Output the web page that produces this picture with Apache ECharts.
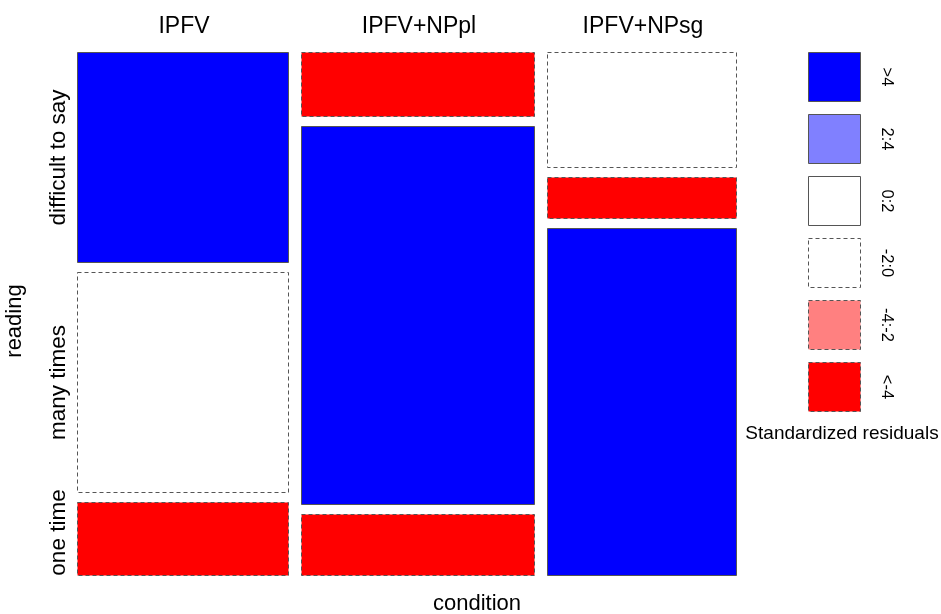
<!DOCTYPE html>
<html>
<head>
<meta charset="utf-8">
<script src="https://cdn.jsdelivr.net/npm/echarts@6/dist/echarts.min.js"></script>
<style>html,body{margin:0;padding:0;background:#fff}#chart{width:941px;height:614px}</style>
</head>
<body>
<div id="chart"></div>
<script>
// Categories
const conditions = ['IPFV', 'IPFV+NPpl', 'IPFV+NPsg'];
const readings = ['difficult to say', 'many times', 'one time'];
// Counts per condition (rows in the order of `readings`)
const countsIPFV = [42, 44, 14.5];
const countsNPpl = [14, 83, 13.5];
const countsNPsg = [20.5, 7.5, 62];
// Residual shading class per cell
const residIPFV = ['>4', '-2:0', '<-4'];
const residNPpl = ['<-4', '>4', '<-4'];
const residNPsg = ['-2:0', '<-4', '>4'];
// Legend
const legendLabels = ['>4', '2:4', '0:2', '-2:0', '-4:-2', '<-4'];
const legendColors = ['#0000FF', '#8080FF', '#FFFFFF', '#FFFFFF', '#FF8080', '#FF0000'];
const legendDashed = [false, false, false, true, true, true];

const counts = [countsIPFV, countsNPpl, countsNPsg];
const resid = [residIPFV, residNPpl, residNPsg];
const fill = {}; const dashed = {};
legendLabels.forEach((l, i) => { fill[l] = legendColors[i]; dashed[l] = legendDashed[i]; });

const colTotals = counts.map(c => c.reduce((a, b) => a + b, 0));
const grand = colTotals.reduce((a, b) => a + b, 0);

const gridW = 659, gridH = 523;
const gapX = 13 / gridW, gapY = 10 / gridH;

const data = [];
conditions.forEach((c, ci) => readings.forEach((r, ri) => data.push([ci, ri])));

const FONT = '"Liberation Sans", Arial, sans-serif';

function renderItem(params, api) {
  const ci = api.value(0), ri = api.value(1);
  let xs = 0; for (let k = 0; k < ci; k++) xs += colTotals[k] / grand;
  const x0 = xs * (1 - 2 * gapX) + ci * gapX;
  const x1 = x0 + colTotals[ci] / grand * (1 - 2 * gapX);
  let ys = 0; for (let k = 0; k < ri; k++) ys += counts[ci][k] / colTotals[ci];
  const y0 = ys * (1 - 2 * gapY) + ri * gapY;
  const y1 = y0 + counts[ci][ri] / colTotals[ci] * (1 - 2 * gapY);
  const p0 = api.coord([x0, y0]), p1 = api.coord([x1, y1]);
  const left = Math.round(Math.min(p0[0], p1[0])) + 0.5;
  const right = Math.round(Math.max(p0[0], p1[0])) + 0.5;
  const top = Math.round(Math.min(p0[1], p1[1])) + 0.5;
  const bottom = Math.round(Math.max(p0[1], p1[1])) + 0.5;
  const cls = resid[ci][ri];
  const children = [{
    type: 'rect',
    shape: { x: left, y: top, width: right - left, height: bottom - top },
    style: {
      fill: fill[cls],
      stroke: '#555555',
      lineWidth: 1,
      lineDash: dashed[cls] ? [4, 3] : null
    }
  }];
  if (ri === 0) {
    children.push({
      type: 'text',
      x: (left + right) / 2 + 1, y: top - 26,
      style: { text: conditions[ci], font: '23px ' + FONT, fill: '#000', align: 'center', verticalAlign: 'middle' }
    });
  }
  if (ci === 0) {
    let cy = (top + bottom) / 2;
    if (ri === readings.length - 1) cy = Math.min(cy, bottom - 43);
    children.push({
      type: 'text',
      x: left - 19, y: cy, rotation: Math.PI / 2,
      style: { text: readings[ri], font: '22.5px ' + FONT, fill: '#000', align: 'center', verticalAlign: 'middle' }
    });
  }
  return { type: 'group', children };
}

const graphics = [];
legendLabels.forEach((l, i) => {
  const top = 52 + i * 62;
  graphics.push({
    type: 'rect',
    shape: { x: 808.5, y: top + 0.5, width: 52, height: 49 },
    style: { fill: legendColors[i], stroke: '#555555', lineWidth: 1, lineDash: legendDashed[i] ? [4, 3] : null }
  });
  graphics.push({
    type: 'text', x: 887, y: top + 25, rotation: -Math.PI / 2,
    style: { text: l, font: '16.5px ' + FONT, fill: '#000', align: 'center', verticalAlign: 'middle' }
  });
});
graphics.push({
  type: 'text', x: 842, y: 434,
  style: { text: 'Standardized residuals', font: '19px ' + FONT, fill: '#000', align: 'center', verticalAlign: 'middle' }
});
graphics.push({
  type: 'text', x: 15, y: 321, rotation: Math.PI / 2,
  style: { text: 'reading', font: '22px ' + FONT, fill: '#000', align: 'center', verticalAlign: 'middle' }
});
graphics.push({
  type: 'text', x: 477, y: 604,
  style: { text: 'condition', font: '22px ' + FONT, fill: '#000', align: 'center', verticalAlign: 'middle' }
});

const chart = echarts.init(document.getElementById('chart'));
chart.setOption({
  animation: false,
  backgroundColor: '#ffffff',
  grid: { left: 77, right: 205, top: 52, bottom: 39 },
  xAxis: { type: 'value', min: 0, max: 1, show: false },
  yAxis: { type: 'value', min: 0, max: 1, inverse: true, show: false },
  series: [{ type: 'custom', renderItem, data, clip: false }],
  graphic: graphics
});
</script>
</body>
</html>
